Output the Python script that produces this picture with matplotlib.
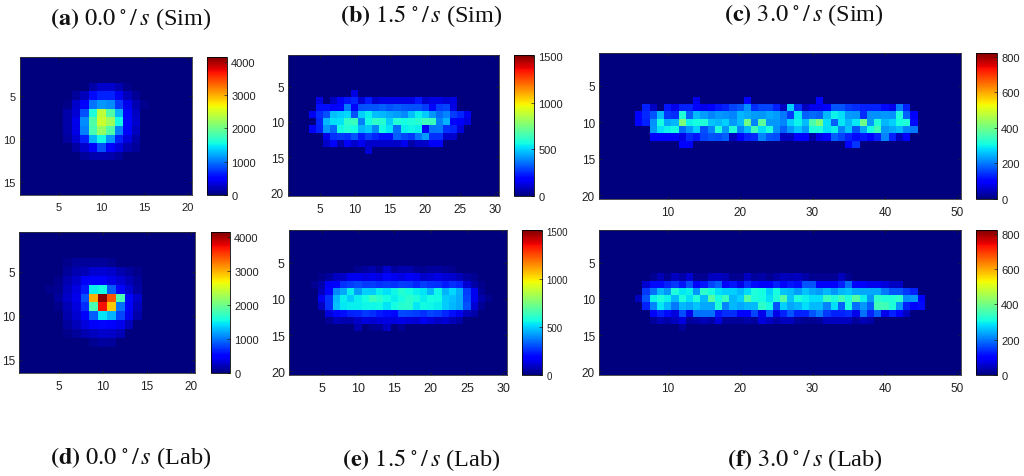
import numpy as np
import matplotlib
matplotlib.use('Agg')
import matplotlib.pyplot as plt

plt.rcParams['font.family'] = 'Liberation Serif'
plt.rcParams['mathtext.fontset'] = 'stix'

W, H = 1024, 477

# each block: row number -> (first column, values), everything else is zero
sim_00 = {
    4: (9, [150, 280, 280, 180, 60]),
    5: (7, [100, 220, 560, 650, 650, 420, 220, 90]),
    6: (6, [40, 280, 500, 1000, 1150, 1100, 750, 400, 180, 50]),
    7: (6, [150, 320, 850, 1600, 2400, 1850, 1250, 500, 250]),
    8: (6, [160, 400, 1100, 1850, 2450, 2250, 1550, 550, 280]),
    9: (6, [150, 380, 1050, 1800, 2200, 1850, 1050, 480, 230]),
    10: (6, [120, 300, 650, 1250, 1550, 1150, 650, 350, 150]),
    11: (7, [130, 280, 520, 850, 500, 350, 180, 100]),
    12: (8, [100, 170, 180, 170, 100]),
}
lab_00 = {
    4: (6, [60, 100, 110, 110, 100, 70]),
    5: (6, [100, 180, 200, 300, 320, 280, 180, 120, 60]),
    6: (5, [60, 180, 280, 450, 500, 500, 380, 320, 200, 100]),
    7: (4, [50, 80, 240, 360, 620, 1500, 1550, 900, 550, 300, 130]),
    8: (5, [120, 260, 400, 850, 3000, 4100, 3400, 1800, 550, 280]),
    9: (5, [60, 210, 350, 700, 1800, 3700, 2900, 1000, 500, 220]),
    10: (6, [170, 300, 520, 900, 1450, 1250, 800, 420, 160]),
    11: (6, [120, 220, 350, 450, 550, 500, 400, 220]),
    12: (6, [60, 100, 180, 240, 280, 260, 200]),
    13: (9, [70, 120, 100]),
}
sim_15 = {
    6: (10, [130]),
    7: (5, [130, 0, 90, 160, 220, 245, 115, 230, 105, 130, 130, 130, 130, 130, 220, 105, 130, 130, 115, 130]),
    8: (5, [210, 210, 175, 200, 370, 175, 310, 315, 315, 335, 310, 325, 315, 310, 310, 280, 200, 280, 290, 130]),
    9: (4, [150, 255, 310, 475, 490, 510, 310, 500, 545, 475, 465, 440, 420, 395, 475, 545, 490, 415, 350, 385, 280, 245, 150]),
    10: (5, [245, 465, 520, 530, 615, 635, 380, 565, 615, 600, 490, 590, 570, 580, 600, 640, 635, 380, 460, 175, 160, 125]),
    11: (4, [160, 240, 415, 345, 565, 590, 570, 460, 485, 395, 565, 530, 350, 545, 555, 545, 195, 360, 370, 265, 245, 125]),
    12: (6, [140, 265, 275, 265, 315, 230, 280, 245, 210, 210, 335, 300, 275, 360, 420, 265, 265, 105, 105]),
    13: (6, [95, 175, 60, 165, 105, 150, 95, 105, 105, 105, 95, 150, 55, 95, 95, 165, 165]),
    14: (12, [115]),
}
lab_15 = {
    6: (10, [25, 45, 60, 35, 105, 45, 60, 60, 35, 25, 45, 45, 35, 20]),
    7: (5, [20, 45, 90, 95, 150, 150, 130, 150, 130, 200, 150, 130, 165, 150, 105, 115, 130, 115, 105, 80, 45, 25]),
    8: (4, [25, 60, 160, 175, 265, 280, 300, 275, 280, 265, 275, 265, 280, 275, 245, 280, 265, 255, 230, 255, 240, 115, 55, 20]),
    9: (5, [80, 195, 395, 440, 545, 420, 500, 490, 545, 520, 555, 600, 570, 545, 530, 465, 555, 460, 510, 450, 280, 150, 35]),
    10: (5, [150, 265, 465, 545, 490, 545, 570, 635, 605, 570, 545, 570, 605, 580, 545, 570, 565, 490, 475, 440, 290, 150, 60, 25]),
    11: (5, [90, 265, 475, 535, 545, 545, 555, 555, 565, 530, 570, 600, 605, 535, 565, 555, 545, 490, 465, 440, 310, 115, 35]),
    12: (6, [125, 200, 210, 240, 245, 275, 255, 230, 210, 195, 300, 290, 280, 265, 290, 280, 245, 210, 150, 80, 55]),
    13: (6, [35, 80, 70, 70, 95, 125, 115, 125, 130, 125, 140, 125, 115, 150, 125, 95, 115, 80, 55]),
    14: (10, [70, 0, 25, 35, 90, 0, 35]),
}
sim_30 = {
    7: (14, [80, 0, 0, 0, 0, 0, 0, 100, 0, 0, 0, 0, 0, 0, 0, 0, 0, 100]),
    8: (7, [130, 50, 0, 120, 80, 130, 130, 100, 80, 105, 120, 130, 160, 170, 220, 140, 160, 160, 130, 45, 270, 140, 45, 80, 80, 90, 170, 170, 150, 140, 130, 130, 130, 110, 80, 200, 130]),
    9: (6, [100, 135, 170, 255, 150, 140, 320, 180, 255, 230, 210, 225, 220, 210, 250, 240, 230, 225, 240, 230, 200, 150, 290, 180, 190, 180, 250, 300, 285, 230, 225, 140, 220, 220, 225, 220, 315, 180, 100]),
    10: (6, [100, 130, 220, 310, 240, 250, 410, 300, 310, 320, 260, 250, 270, 225, 255, 400, 210, 380, 225, 225, 210, 270, 300, 255, 360, 410, 285, 180, 290, 250, 290, 400, 225, 320, 250, 270, 310, 320, 110]),
    11: (8, [225, 285, 300, 310, 190, 225, 270, 165, 210, 320, 225, 320, 210, 255, 350, 285, 315, 220, 180, 225, 260, 225, 315, 315, 280, 300, 210, 260, 170, 240, 310, 350, 225, 240, 255, 210, 200]),
    12: (8, [90, 90, 100, 100, 75, 135, 120, 160, 170, 165, 180, 45, 100, 130, 135, 210, 170, 165, 50, 45, 100, 100, 30, 75, 90, 180, 160, 130, 110, 120, 105, 130, 210, 130, 45, 90]),
    13: (12, [90, 90, 0, 0, 0, 0, 0, 0, 0, 0, 0, 0, 0, 0, 0, 0, 0, 0, 0, 0, 0, 0, 0, 100, 145]),
}
lab_30 = {
    7: (8, [15, 40, 15, 45, 30, 60, 15, 15, 45, 50, 40, 15, 15, 50, 20, 30, 15, 30, 45, 40, 45, 30, 15, 15, 15, 15, 45, 15]),
    8: (7, [60, 110, 110, 130, 150, 120, 165, 90, 120, 160, 180, 100, 120, 75, 135, 110, 90, 90, 130, 90, 120, 110, 170, 170, 90, 90, 100, 130, 190, 100, 100, 80, 80, 70, 50, 50]),
    9: (7, [150, 195, 250, 225, 315, 290, 300, 225, 330, 310, 285, 270, 270, 250, 280, 315, 310, 270, 310, 260, 255, 230, 260, 240, 230, 250, 225, 250, 260, 240, 240, 240, 240, 200, 170, 170, 150, 130]),
    10: (6, [45, 170, 300, 315, 300, 255, 315, 285, 320, 255, 370, 310, 345, 250, 270, 370, 315, 310, 285, 320, 370, 260, 315, 300, 285, 285, 340, 315, 350, 315, 370, 300, 225, 330, 320, 320, 330, 220, 225, 90]),
    11: (7, [130, 210, 290, 250, 200, 250, 240, 260, 240, 240, 320, 210, 250, 240, 250, 255, 330, 310, 170, 270, 240, 250, 285, 255, 255, 210, 285, 180, 315, 195, 225, 180, 350, 350, 320, 225, 130, 100, 110]),
    12: (8, [100, 130, 110, 70, 165, 80, 195, 195, 195, 120, 140, 140, 100, 90, 160, 80, 180, 75, 130, 170, 130, 130, 170, 200, 150, 130, 130, 140, 80, 195, 130, 180, 80, 130, 90, 45]),
    13: (8, [20, 40, 30, 45, 70, 20, 30, 40, 30, 70, 20, 20, 20, 30, 20, 70, 50, 30, 45, 45, 20, 15, 15, 20, 45, 45, 50, 45, 20, 40, 30]),
    14: (12, [20]),
}

xticks_20 = [5, 10, 15, 20]
xticks_30 = [5, 10, 15, 20, 25, 30]
xticks_50 = [10, 20, 30, 40, 50]
yticks_16 = [5, 10, 15]
yticks_20 = [5, 10, 15, 20]
cticks_00 = [0, 1000, 2000, 3000, 4000]
cticks_15 = [0, 500, 1000, 1500]
cticks_30 = [0, 200, 400, 600, 800]

fig = plt.figure(figsize=(W / 100, H / 100), dpi=100)


def box(x0, y0, x1, y1):
    return [x0 / W, 1 - y1 / H, (x1 - x0) / W, (y1 - y0) / H]


def panel(cells, n_rows, n_cols, vmax, xticks, yticks, cticks, ax_box, cbar_box, label_size=8.5, cbar_size=8):
    grid = np.zeros((n_rows, n_cols))
    for row, (first, values) in cells.items():
        grid[row - 1, first - 1:first - 1 + len(values)] = values
    ax = fig.add_axes(box(*ax_box))
    im = ax.imshow(grid, cmap='jet', vmin=0, vmax=vmax, aspect='auto', interpolation='nearest',
                   extent=[0.5, n_cols + 0.5, n_rows + 0.5, 0.5])
    ax.set_xticks(xticks)
    ax.set_yticks(yticks)
    ax.tick_params(direction='in', length=2, width=0.5, top=True, right=True, labelsize=label_size,
                   colors='#222222')
    ax.tick_params(axis='x', pad=5)
    ax.tick_params(axis='y', pad=3)
    for label in ax.get_xticklabels() + ax.get_yticklabels():
        label.set_family('Liberation Sans')
    for spine in ax.spines.values():
        spine.set_linewidth(0.6)
        spine.set_color('#333333')
    cax = fig.add_axes(box(*cbar_box))
    cbar = fig.colorbar(im, cax=cax, ticks=cticks)
    cbar.ax.tick_params(direction='in', length=2, width=0.5, pad=3, labelsize=cbar_size, colors='#222222')
    for label in cbar.ax.get_yticklabels():
        label.set_family('Liberation Sans')
    cbar.outline.set_linewidth(0.6)


panel(sim_00, 16, 20, 4150, xticks_20, yticks_16, cticks_00, (20, 58, 192, 196), (207, 58, 227, 196), 8)
panel(sim_15, 20, 30, 1510, xticks_30, yticks_20, cticks_15, (288, 56, 499, 197), (514, 56, 534, 197))
panel(sim_30, 20, 50, 820, xticks_50, yticks_20, cticks_30, (599, 54, 961, 200), (976, 54, 997, 200))
panel(lab_00, 16, 20, 4150, xticks_20, yticks_16, cticks_00, (19, 233, 195, 374), (211, 233, 230, 374))
panel(lab_15, 20, 30, 1510, xticks_30, yticks_20, cticks_15, (289, 231, 507, 376), (522, 231, 542, 376), 9, 7)
panel(lab_30, 20, 50, 820, xticks_50, yticks_20, cticks_30, (599, 231, 961, 376), (976, 231, 997, 376))


def caption(cx, cy, letter, speed, source):
    fig.text(cx / W, 1 - cy / H, r'$\mathbf{(%s)}$ $%s\;{}^{\circ}\,/\,s$ (%s)' % (letter, speed, source),
             ha='center', va='center', fontsize=17.5, color='#111111')


caption(131, 19, 'a', '0.0', 'Sim')
caption(421, 16, 'b', '1.5', 'Sim')
caption(804, 15, 'c', '3.0', 'Sim')
caption(131, 458, 'd', '0.0', 'Lab')
caption(421, 460, 'e', '1.5', 'Lab')
caption(805, 460, 'f', '3.0', 'Lab')

fig.savefig('out.png', dpi=100)
